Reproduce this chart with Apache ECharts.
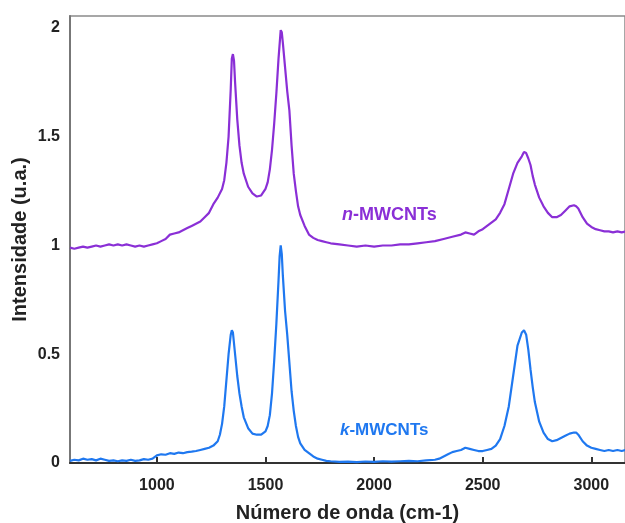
<!DOCTYPE html>
<html><head><meta charset="utf-8">
<script src="https://cdn.jsdelivr.net/npm/echarts@6/dist/echarts.min.js"></script>
<style>html,body{margin:0;padding:0;background:#fff}#c{width:625px;height:523px}</style>
</head><body><div id="c"></div>
<script>
const xTicks = [1000, 1500, 2000, 2500, 3000];
const nWave = [600,620,640,660,680,700,720,740,760,780,800,820,840,860,880,900,920,940,960,980,1000,1020,1040,1060,1080,1100,1120,1140,1160,1180,1200,1220,1240,1260,1280,1300,1310,1320,1330,1340,1345,1350,1355,1360,1370,1380,1390,1400,1420,1440,1460,1480,1500,1510,1520,1530,1540,1550,1560,1570,1575,1580,1590,1600,1610,1620,1630,1640,1650,1660,1680,1700,1720,1740,1760,1780,1800,1840,1880,1920,1960,2000,2040,2080,2120,2160,2200,2240,2280,2320,2360,2400,2420,2440,2460,2480,2500,2520,2540,2560,2580,2600,2620,2640,2660,2680,2690,2700,2710,2720,2730,2740,2760,2780,2800,2820,2840,2860,2880,2900,2920,2930,2940,2960,2980,3000,3020,3040,3060,3080,3100,3120,3140,3160];
const nInt = [0.99,0.985,0.99,0.995,0.99,0.995,1.0,0.995,1.0,1.005,1.0,1.005,1.0,1.005,1.0,0.995,1.0,0.995,1.0,1.005,1.01,1.02,1.03,1.05,1.055,1.06,1.07,1.08,1.09,1.1,1.11,1.13,1.15,1.19,1.22,1.26,1.3,1.38,1.5,1.72,1.86,1.88,1.85,1.75,1.58,1.46,1.38,1.33,1.27,1.24,1.225,1.23,1.26,1.29,1.35,1.44,1.56,1.7,1.86,1.99,1.98,1.93,1.82,1.71,1.62,1.46,1.33,1.25,1.18,1.14,1.09,1.05,1.035,1.025,1.02,1.015,1.01,1.005,1.0,0.995,1.0,0.995,1.0,1.0,1.005,1.005,1.01,1.015,1.02,1.03,1.04,1.05,1.06,1.055,1.05,1.065,1.075,1.09,1.105,1.12,1.15,1.19,1.26,1.33,1.38,1.41,1.43,1.425,1.4,1.37,1.32,1.28,1.22,1.18,1.15,1.13,1.13,1.14,1.16,1.18,1.185,1.18,1.17,1.13,1.1,1.085,1.075,1.07,1.065,1.065,1.06,1.065,1.06,1.065];
const kWave = [600,620,640,660,680,700,720,740,760,780,800,820,840,860,880,900,920,940,960,980,1000,1020,1040,1060,1080,1100,1120,1140,1160,1180,1200,1220,1240,1260,1280,1290,1300,1310,1320,1330,1340,1345,1350,1360,1370,1380,1390,1400,1420,1440,1460,1480,1500,1510,1520,1530,1540,1550,1560,1565,1570,1575,1580,1590,1600,1610,1620,1630,1640,1650,1660,1680,1700,1720,1740,1760,1780,1800,1840,1880,1920,1960,2000,2040,2080,2120,2160,2200,2240,2280,2300,2320,2340,2360,2380,2400,2420,2440,2460,2480,2500,2520,2540,2560,2580,2600,2620,2640,2660,2680,2690,2700,2710,2720,2730,2740,2760,2780,2800,2820,2840,2860,2880,2900,2920,2930,2940,2960,2980,3000,3020,3040,3060,3080,3100,3120,3140,3160];
const kInt = [0.01,0.015,0.012,0.02,0.015,0.018,0.012,0.02,0.015,0.01,0.012,0.008,0.012,0.01,0.015,0.01,0.012,0.018,0.015,0.02,0.035,0.04,0.038,0.045,0.042,0.048,0.045,0.05,0.052,0.055,0.06,0.065,0.07,0.08,0.1,0.13,0.18,0.26,0.38,0.5,0.59,0.61,0.6,0.5,0.4,0.32,0.26,0.21,0.16,0.135,0.13,0.13,0.145,0.17,0.22,0.32,0.47,0.64,0.84,0.95,1.0,0.96,0.86,0.7,0.59,0.46,0.33,0.24,0.17,0.12,0.09,0.06,0.045,0.03,0.02,0.015,0.01,0.008,0.005,0.006,0.004,0.007,0.005,0.008,0.006,0.008,0.01,0.008,0.012,0.015,0.02,0.03,0.04,0.05,0.055,0.06,0.07,0.065,0.06,0.055,0.055,0.06,0.065,0.08,0.11,0.17,0.26,0.4,0.54,0.6,0.61,0.59,0.52,0.43,0.35,0.28,0.19,0.14,0.11,0.1,0.105,0.115,0.125,0.135,0.14,0.14,0.13,0.1,0.08,0.07,0.065,0.06,0.055,0.06,0.055,0.06,0.055,0.06];
const nName = 'n-MWCNTs', kName = 'k-MWCNTs';
const xTitle = 'Número de onda (cm-1)', yTitle = 'Intensidade (u.a.)';

const FONT = '"Liberation Sans", Arial, sans-serif';
const purple = '#8a2fd6', blue = '#1f78f0';
const chart = echarts.init(document.getElementById('c'));
chart.setOption({
  animation: false,
  backgroundColor: '#fff',
  grid: {left: 70, right: 0, top: 16, bottom: 60, outerBoundsMode: 'none', containLabel: false,
    show: true, borderColor: '#8a8a8a', borderWidth: 1.5},
  xAxis: {
    type: 'value', min: 600, max: 3155,
    name: xTitle, nameLocation: 'middle', nameGap: 40, nameMoveOverlap: false,
    nameTextStyle: {fontFamily: FONT, fontWeight: 'bold', fontSize: 20, color: '#222'},
    axisLine: {show: true, lineStyle: {color: '#333', width: 2}},
    axisTick: {show: true, inside: true, length: 6, customValues: xTicks, lineStyle: {color: '#333', width: 2}},
    axisLabel: {customValues: xTicks, fontFamily: FONT, fontWeight: 'bold', fontSize: 16, color: '#222', margin: 15,
      formatter: v => String(v)},
    splitLine: {show: false}
  },
  yAxis: {
    type: 'value', min: 0, max: 2.055, interval: 0.5,
    name: yTitle, nameLocation: 'middle', nameGap: 40, nameMoveOverlap: false,
    nameTextStyle: {fontFamily: FONT, fontWeight: 'bold', fontSize: 20, color: '#222'},
    axisLine: {show: true, lineStyle: {color: '#777', width: 2}},
    axisTick: {show: false},
    axisLabel: {fontFamily: FONT, fontWeight: 'bold', fontSize: 16, color: '#222', margin: 10,
      showMaxLabel: false, formatter: v => (v > 2.01 ? '' : String(v))},
    splitLine: {show: false}
  },
  series: [
    {type: 'line', name: nName, data: nWave.map((x, i) => [x, nInt[i]]), showSymbol: false,
      lineStyle: {color: purple, width: 2.2}, itemStyle: {color: purple}},
    {type: 'line', name: kName, data: kWave.map((x, i) => [x, kInt[i]]), showSymbol: false,
      lineStyle: {color: blue, width: 2.2}, itemStyle: {color: blue}}
  ],
  graphic: [
    {type: 'text', left: 342, top: 206, style: {
      text: '{i|n}{b|-MWCNTs}', rich: {
        i: {fontFamily: FONT, fontWeight: 'bold', fontStyle: 'italic', fontSize: 18, fill: purple},
        b: {fontFamily: FONT, fontWeight: 'bold', fontSize: 18, fill: purple}}}},
    {type: 'text', left: 340, top: 422, style: {
      text: '{i|k}{b|-MWCNTs}', rich: {
        i: {fontFamily: FONT, fontWeight: 'bold', fontStyle: 'italic', fontSize: 17, fill: blue},
        b: {fontFamily: FONT, fontWeight: 'bold', fontSize: 17, fill: blue}}}}
  ]
});
</script></body></html>
